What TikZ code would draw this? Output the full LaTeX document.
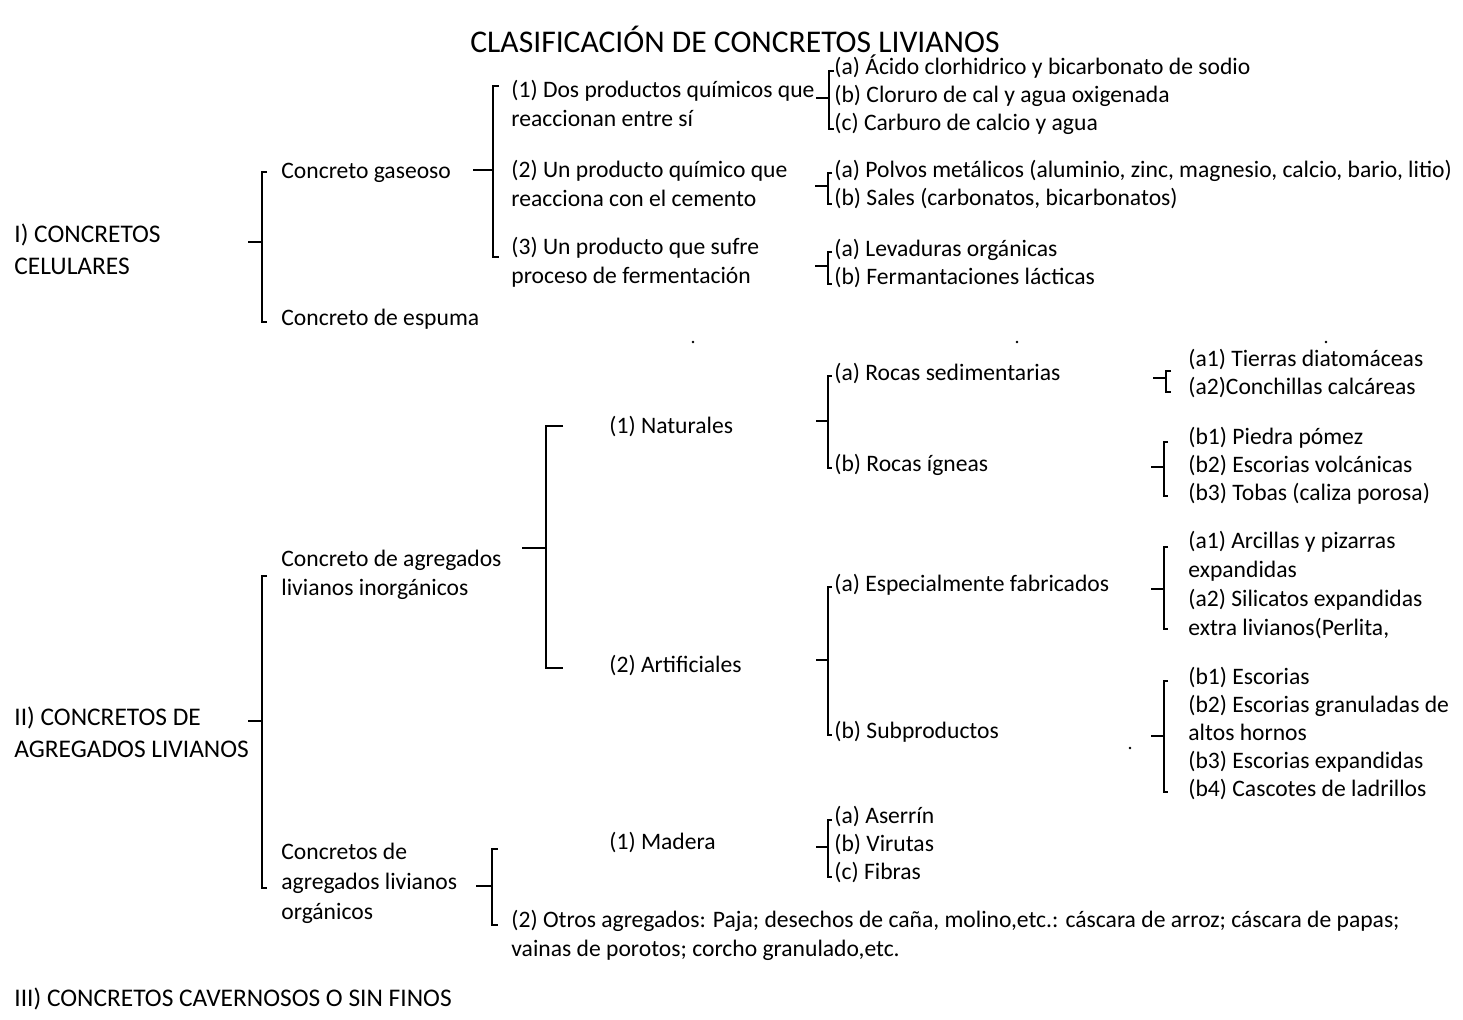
\documentclass[tikz,border=0pt]{standalone}
\usepackage{fontspec}
\setmainfont{Carlito}
\begin{document}
\begin{tikzpicture}[x=0.5pt,y=-0.5pt,
  lbl/.style={anchor=base west,inner sep=0pt,align=left,
    font=\fontsize{11.8}{14.5}\selectfont},
  lbltight/.style={lbl,font=\fontsize{11.8}{14}\selectfont},
  head/.style={anchor=base west,inner sep=0pt,align=left,
    font=\fontsize{12.7}{16}\selectfont},
  ttl/.style={anchor=base,inner sep=0pt,font=\fontsize{15.8}{18}\selectfont},
  brk/.style={line width=0.9pt,line join=miter},
  speck/.style={fill=black,inner sep=0pt,minimum size=1.4pt,circle}]

\useasboundingbox (0,0) rectangle (1463,1019);

% bracket: x, top, bottom, middle, hook length, tick length
\newcommand\sqbrk[6]{%
  \draw[brk] (#1+#5,#2) -- (#1,#2) -- (#1,#3) -- (#1+#5,#3);
  \draw[brk] (#1,#4) -- (#1-#6,#4);}

% title
\node[ttl] (title) at (735,52) {CLASIFICACIÓN DE CONCRETOS LIVIANOS};

% main groups (multi-line nodes are placed by the baseline of their last line)
\node[head] (g1) at (14,274) {I) CONCRETOS\\CELULARES};
\node[head] (g2) at (14,757) {II) CONCRETOS DE\\AGREGADOS LIVIANOS};
\node[head] (g3) at (14,1006) {III) CONCRETOS CAVERNOSOS O SIN FINOS};

% I) cellular concretes
\node[lbl] (gas) at (281,178) {Concreto gaseoso};
\node[lbl] (esp) at (281,325) {Concreto de espuma};
\sqbrk{262}{172}{322}{242}{5}{14}

\node[lbl] (q1) at (511,126) {(1) Dos productos químicos que\\reaccionan entre sí};
\node[lbl] (q2) at (511,206) {(2) Un producto químico que\\reacciona con el cemento};
\node[lbl] (q3) at (511,283) {(3) Un producto que sufre\\proceso de fermentación};
\sqbrk{493}{86}{257}{170}{6}{20}

\node[lbltight] (q1a) at (834,74) {(a) Ácido clorhidrico y bicarbonato de sodio};
\node[lbltight] (q1b) at (834,102) {(b) Cloruro de cal y agua oxigenada};
\node[lbltight] (q1c) at (834,130) {(c) Carburo de calcio y agua};
\sqbrk{829}{71}{129}{98}{5}{13}

\node[lbltight] (q2a) at (834,177) {(a) Polvos metálicos (aluminio, zinc, magnesio, calcio, bario, litio)};
\node[lbltight] (q2b) at (834,205) {(b) Sales (carbonatos, bicarbonatos)};
\sqbrk{828}{173}{204}{186}{4}{13}

\node[lbltight] (q3a) at (834,256) {(a) Levaduras orgánicas};
\node[lbltight] (q3b) at (834,284) {(b) Fermantaciones lácticas};
\sqbrk{828}{252}{284}{266}{4}{13}

% II) lightweight aggregate concretes
\node[lbl] (inorg) at (281,595) {Concreto de agregados\\livianos inorgánicos};
\node[lbl,font=\fontsize{11.8}{15}\selectfont] (orgn) at (281,919) {Concretos de\\agregados livianos\\orgánicos};
\sqbrk{262}{576}{888}{721}{5}{14}

\node[lbl] (nat) at (609,433) {(1) Naturales};
\node[lbl] (art) at (609,672) {(2) Artificiales};
\sqbrk{546}{426}{668}{548}{17}{24}

\node[lbl] (sed) at (834,380) {(a) Rocas sedimentarias};
\node[lbl] (ign) at (834,471) {(b) Rocas ígneas};
\sqbrk{828}{376}{468}{421}{4}{12}

\node[lbltight] (sed1) at (1188,366) {(a1) Tierras diatomáceas};
\node[lbltight] (sed2) at (1188,394) {(a2)Conchillas calcáreas};
\sqbrk{1166}{371}{392}{378}{5}{13}

\node[lbltight] (ign1) at (1188,444) {(b1) Piedra pómez};
\node[lbltight] (ign2) at (1188,472) {(b2) Escorias volcánicas};
\node[lbltight] (ign3) at (1188,500) {(b3) Tobas (caliza porosa)};
\sqbrk{1164}{442}{496}{467}{4}{13}

\node[lbl] (fab) at (834,591) {(a) Especialmente fabricados};
\node[lbl] (sub) at (834,738) {(b) Subproductos};
\sqbrk{828}{587}{735}{660}{4}{12}

\node[lbl,font=\fontsize{11.8}{14.35}\selectfont] (fab1) at (1188,635) {(a1) Arcillas y pizarras\\expandidas\\(a2) Silicatos expandidas\\extra livianos(Perlita,};
\sqbrk{1164}{547}{629}{589}{4}{13}

\node[lbltight] (sub1) at (1188,796) {(b1) Escorias\\(b2) Escorias granuladas de\\altos hornos\\(b3) Escorias expandidas\\(b4) Cascotes de ladrillos};
\sqbrk{1164}{681}{792}{736}{4}{13}

\node[lbl] (mad) at (609,849) {(1) Madera};
\node[lbl] (otros) at (511,956) {(2) Otros agregados: Paja; desechos de caña, molino,etc.: cáscara de arroz; cáscara de papas;\\vainas de porotos; corcho granulado,etc.};
\sqbrk{492}{849}{925}{886}{6}{16}

\node[lbltight] (mada) at (834,823) {(a) Aserrín};
\node[lbltight] (madb) at (834,851) {(b) Virutas};
\node[lbltight] (madc) at (834,879) {(c) Fibras};
\sqbrk{828}{820}{877}{847}{4}{12}

% small specks on the sheet
\node[speck] (s1) at (693,342) {};
\node[speck] (s2) at (1017,342) {};
\node[speck] (s3) at (1326,342) {};
\node[speck] (s4) at (1130,748) {};
\end{tikzpicture}
\end{document}
